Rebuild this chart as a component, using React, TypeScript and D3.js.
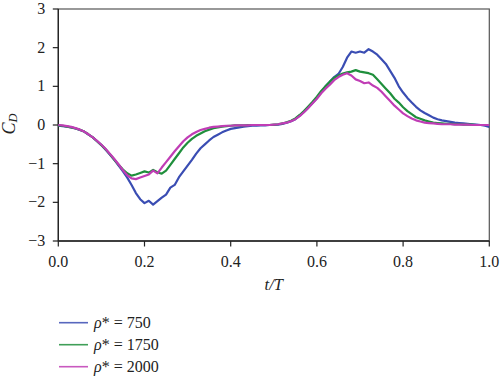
import React from "react";
import * as d3 from "d3";

const tValues: number[] = d3.range(0, 101).map((i) => i / 100);

const rho750: number[] = [
  -0.02, -0.03, -0.04, -0.06, -0.09, -0.13, -0.17, -0.25, -0.32, -0.42,
  -0.52, -0.64, -0.77, -0.9, -1.05, -1.2, -1.36, -1.55, -1.76, -1.92,
  -2.02, -1.96, -2.06, -1.97, -1.88, -1.8, -1.62, -1.55, -1.35, -1.2,
  -1.05, -0.9, -0.74, -0.6, -0.5, -0.4, -0.31, -0.25, -0.19, -0.14,
  -0.1, -0.08, -0.06, -0.04, -0.03, -0.02, -0.02, -0.01, -0.01, 0.0,
  0.0, 0.01, 0.03, 0.06, 0.1, 0.15, 0.24, 0.34, 0.45, 0.57,
  0.7, 0.85, 1.0, 1.12, 1.24, 1.32, 1.5, 1.74, 1.9, 1.87,
  1.9, 1.87, 1.96, 1.9, 1.82, 1.7, 1.58, 1.4, 1.22, 1.0,
  0.84, 0.7, 0.58, 0.47, 0.38, 0.31, 0.25, 0.19, 0.15, 0.12,
  0.1, 0.08, 0.06, 0.05, 0.04, 0.03, 0.02, 0.01, 0.0, -0.02,
  -0.05,
];

const rho1750: number[] = [
  -0.01, -0.02, -0.04, -0.06, -0.09, -0.12, -0.17, -0.24, -0.32, -0.42,
  -0.52, -0.63, -0.76, -0.9, -1.03, -1.15, -1.25, -1.31, -1.28, -1.24,
  -1.2, -1.23, -1.16, -1.22, -1.26, -1.18, -1.03, -0.88, -0.73, -0.58,
  -0.46, -0.36, -0.28, -0.22, -0.16, -0.12, -0.08, -0.06, -0.04, -0.03,
  -0.02, -0.01, -0.01, -0.01, 0.0, 0.0, 0.0, 0.0, 0.0, 0.0,
  0.01, 0.02, 0.04, 0.07, 0.11, 0.17, 0.26, 0.36, 0.48, 0.6,
  0.73, 0.88, 1.0, 1.12, 1.22, 1.28, 1.33, 1.36, 1.38, 1.42,
  1.38, 1.36, 1.34, 1.3, 1.18, 1.06, 0.94, 0.82, 0.68, 0.58,
  0.46, 0.36, 0.28, 0.2, 0.16, 0.12, 0.09, 0.06, 0.05, 0.04,
  0.03, 0.03, 0.02, 0.02, 0.01, 0.01, 0.01, 0.0, 0.0, 0.0,
  0.0,
];

const rho2000: number[] = [
  0.0, -0.01, -0.03, -0.05, -0.08, -0.12, -0.17, -0.24, -0.32, -0.41,
  -0.51, -0.62, -0.75, -0.88, -1.02, -1.17, -1.3, -1.38, -1.4, -1.36,
  -1.32, -1.28, -1.18, -1.25, -1.1, -0.96, -0.82, -0.68, -0.55, -0.42,
  -0.32, -0.24, -0.18, -0.13, -0.1, -0.07, -0.05, -0.04, -0.03, -0.02,
  -0.02, -0.01, -0.01, -0.01, -0.01, 0.0, 0.0, 0.0, 0.0, 0.0,
  0.01, 0.02, 0.04, 0.06, 0.1, 0.15, 0.23, 0.33, 0.44, 0.56,
  0.68, 0.82, 0.94, 1.04, 1.16, 1.24, 1.3, 1.34, 1.28, 1.18,
  1.14, 1.08, 1.1, 1.02, 0.96, 0.86, 0.74, 0.62, 0.5, 0.4,
  0.3, 0.23, 0.17, 0.12, 0.09, 0.06, 0.05, 0.04, 0.03, 0.02,
  0.02, 0.02, 0.01, 0.01, 0.01, 0.01, 0.0, 0.0, 0.0, 0.0,
  0.0,
];

const seriesNames: string[] = ["750", "1750", "2000"];
const seriesColors: string[] = ["#3a4db3", "#1f8f3c", "#c03db5"];
const seriesValues: number[][] = [rho750, rho1750, rho2000];

const xTicks: number[] = [0, 0.2, 0.4, 0.6, 0.8, 1.0];
const yTicks: number[] = [-3, -2, -1, 0, 1, 2, 3];

export default function App() {
  const W = 500;
  const H = 377;
  const left = 58.3;
  const right = 489.3;
  const top = 9;
  const bottom = 241;

  const x = d3.scaleLinear().domain([0, 1]).range([left, right]);
  const y = d3.scaleLinear().domain([-3, 3]).range([bottom, top]);

  const line = d3
    .line<number>()
    .x((_, i) => x(tValues[i]))
    .y((d) => y(d));

  const serif = "\"Liberation Serif\", \"Times New Roman\", Times, serif";
  const fmtX = d3.format(".1f");
  const fmtY = (v: number) => (v < 0 ? "\u2212" + Math.abs(v) : String(v));

  return (
    <svg
      width={W}
      height={H}
      style={{ position: "absolute", left: 0, top: 0, background: "#fff", fontFamily: serif }}
    >
      <rect
        x={left}
        y={top}
        width={right - left}
        height={bottom - top}
        fill="none"
        stroke="#555"
        strokeWidth={1.2}
      />
      <line x1={left} x2={left} y1={top} y2={bottom} stroke="#222" strokeWidth={1.3} />
      <line x1={left} x2={right} y1={bottom} y2={bottom} stroke="#222" strokeWidth={1.3} />

      {yTicks.map((v) => (
        <g key={"y" + v}>
          <line x1={left - 5.5} x2={left} y1={y(v)} y2={y(v)} stroke="#222" strokeWidth={1.2} />
          <text x={left - 13} y={y(v) + 5} textAnchor="end" fontSize={16} fill="#222">
            {fmtY(v)}
          </text>
        </g>
      ))}

      {xTicks.map((v) => (
        <g key={"x" + v}>
          <line x1={x(v)} x2={x(v)} y1={bottom} y2={bottom + 5.5} stroke="#222" strokeWidth={1.2} />
          <text x={x(v)} y={266.5} textAnchor="middle" fontSize={16} fill="#222">
            {fmtX(v)}
          </text>
        </g>
      ))}

      <text x={(left + right) / 2} y={290} textAnchor="middle" fontSize={16.5} fill="#222" fontStyle="italic">
        t/T
      </text>
      <text transform="translate(15,124) rotate(-90)" textAnchor="middle" fill="#222" fontStyle="italic">
        <tspan fontSize={18}>C</tspan>
        <tspan fontSize={12.5} dy={2}>D</tspan>
      </text>

      {seriesValues.map((vals, i) => (
        <path
          key={seriesNames[i]}
          d={line(vals) || ""}
          fill="none"
          stroke={seriesColors[i]}
          strokeWidth={2.2}
          strokeLinejoin="round"
        />
      ))}

      {seriesNames.map((name, i) => {
        const ly = 322.7 + i * 22;
        return (
          <g key={"leg" + name}>
            <line x1={59} x2={88} y1={ly} y2={ly} stroke={seriesColors[i]} strokeWidth={1.6} opacity={0.85} />
            <text x={94} y={ly + 5} fontSize={16} fill="#222">
              <tspan fontStyle="italic">ρ</tspan>
              <tspan>* = {name}</tspan>
            </text>
          </g>
        );
      })}
    </svg>
  );
}
